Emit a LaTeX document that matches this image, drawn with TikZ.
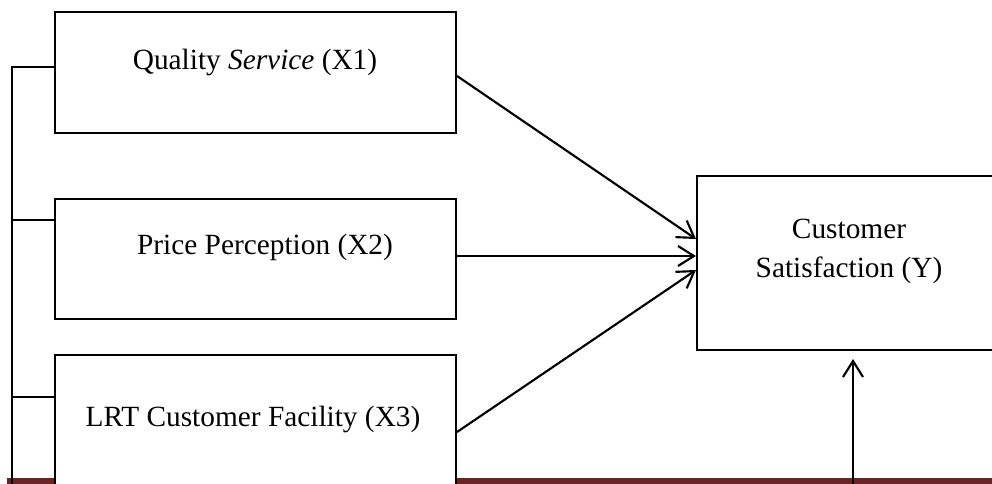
\documentclass[tikz,border=0pt]{standalone}
\usepackage{fontspec}
\setmainfont{Liberation Serif}
\usetikzlibrary{arrows.meta,calc}
\definecolor{bandred}{RGB}{107,36,38}
\begin{document}
\begin{tikzpicture}[x=0.75pt,y=-0.75pt,
  box/.style={draw=black,fill=white,line width=1.5pt,inner sep=0pt},
  lbl/.style={font=\fontsize{22}{29}\selectfont,inner sep=0pt,anchor=base,align=center},
  conn/.style={line width=1.5pt},
  arr/.style={line width=1.6pt,-{Straight Barb[length=12pt,width=15pt,line width=1.6pt]}}]
\useasboundingbox (0,0) rectangle (992,483);
\clip (0,0) rectangle (992,483);
% dark red band at the bottom
\fill[bandred] (7,478) rectangle (995,486);
% boxes
\node[box,minimum width=300.75pt,minimum height=90.75pt] (x1) at (255.5,72.5) {};
\node[box,minimum width=300.75pt,minimum height=90pt] (x2) at (255.5,259) {};
\node[box,minimum width=300.75pt,minimum height=115.5pt] (x3) at (255.5,432) {};
\node[box,minimum width=228pt,minimum height=130.5pt] (y) at (849,263) {};
% texts
\node[lbl] (t1) at (255,69) {Quality \textit{Service} (X1)};
\node[lbl] (t2) at (265,254) {Price Perception (X2)};
\node[lbl] (t3) at (253,426) {LRT Customer Facility (X3)};
\node[lbl] (ty) at (849,277) {Customer\\Satisfaction (Y)};
% left bracket
\coordinate (lb) at (12,495);
\draw[conn] ([yshift=4.1pt]x1.west) -| (lb);
\draw[conn] ([yshift=29.25pt]x2.west) -- ([yshift=29.25pt]x2.west -| lb);
\draw[conn] ([yshift=26.25pt]x3.west) -- ([yshift=26.25pt]x3.west -| lb);
% arrows into Y
\draw[arr] ([yshift=-2.6pt]x1.east) -- ([yshift=18pt]y.west);
\draw[arr] ([yshift=2.25pt]x2.east) -- ([yshift=2.25pt]x2.east -| y.west);
\draw[arr] (x3.east) -- ([yshift=-5.25pt]y.west);
% arrow from below
\coordinate (bot) at (853,495);
\draw[arr] (bot) -- ([yshift=-6pt]y.south -| bot);
\end{tikzpicture}
\end{document}
